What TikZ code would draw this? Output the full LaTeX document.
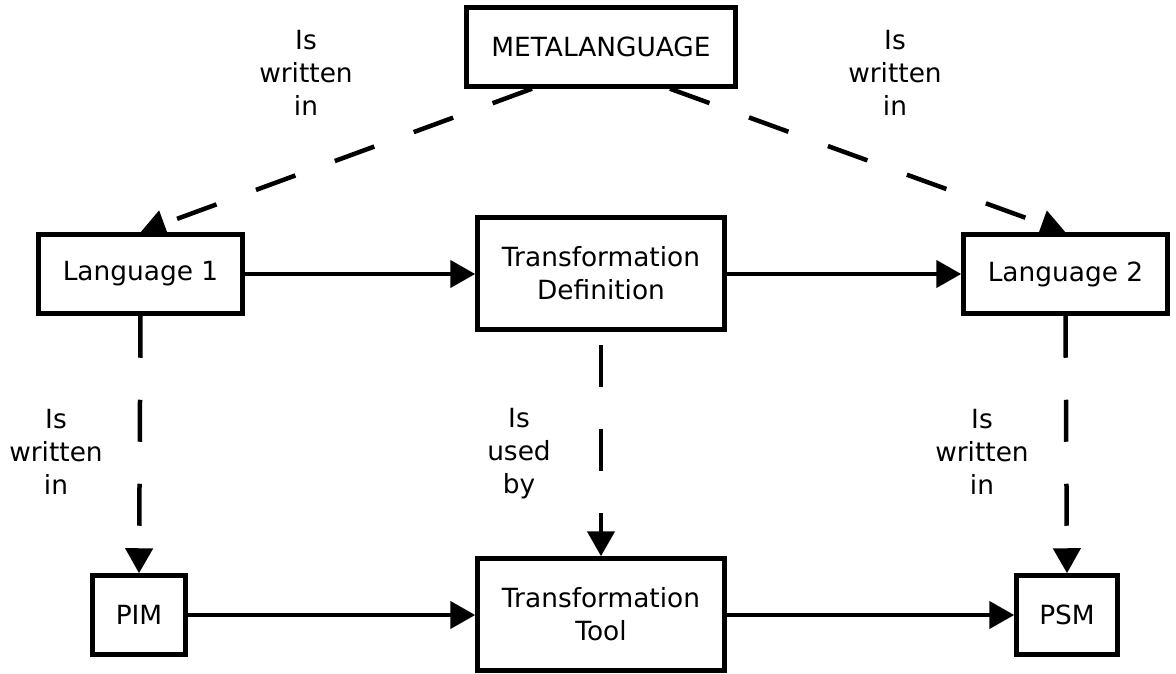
\documentclass[tikz,border=0pt]{standalone}
\usepackage{fontspec}
\setmainfont{DejaVu Sans}
\usetikzlibrary{arrows.meta}
\begin{document}
\begin{tikzpicture}[x=1pt,y=-1pt,
  box/.style={draw, line width=4.5pt, minimum width=#1, inner sep=0pt, align=center,
    font=\fontsize{26.4}{33}\selectfont},
  box/.default=204pt,
  tall/.style={minimum height=112pt},
  short/.style={minimum height=79pt},
  lbl/.style={align=center, inner sep=0pt, font=\fontsize{26.4}{33}\selectfont},
  conn/.style={line width=4.5pt, -{Triangle[length=25pt,width=27pt]}},
  dashconn/.style={conn, dash pattern=on 42pt off 42pt}]
  \useasboundingbox (0,0) rectangle (1176,674);

  % boxes
  \node[box=269pt, short] (meta) at (601,47) {METALANGUAGE};
  \node[box, short] (lang1) at (140.5,274) {Language 1};
  \node[box=247pt, tall] (tdef) at (601,273.5) {Transformation\\Definition};
  \node[box, short] (lang2) at (1065.5,274) {Language 2};
  \node[box=93pt, short] (pim) at (139,615) {PIM};
  \node[box=247pt, tall] (ttool) at (601,614.5) {Transformation\\Tool};
  \node[box=101pt, short] (psm) at (1067,615) {PSM};

  % relation labels
  \node[lbl] (l1) at (306,73) {Is\\written\\in};
  \node[lbl] (l2) at (895,73) {Is\\written\\in};
  \node[lbl] (l3) at (56,452) {Is\\written\\in};
  \node[lbl] (l4) at (519,454) {Is\\used\\by};
  \node[lbl] (l5) at (982,452) {Is\\written\\in};

  % dashed relations
  \draw[dashconn] ([xshift=-69pt]meta.south) -- (lang1.north);
  \draw[dashconn] ([xshift=69pt]meta.south) -- (lang2.north);
  \draw[dashconn] (lang1.south) -- (pim.north);
  \draw[dashconn, dash phase=71pt] (tdef.south) -- (ttool.north);
  \draw[dashconn] (lang2.south) -- (psm.north);

  % solid flows
  \draw[conn] (lang1.east) -- (tdef.west |- lang1.east);
  \draw[conn] (tdef.east |- lang2.west) -- (lang2.west);
  \draw[conn] (pim.east) -- (ttool.west |- pim.east);
  \draw[conn] (ttool.east |- psm.west) -- (psm.west);
\end{tikzpicture}
\end{document}
